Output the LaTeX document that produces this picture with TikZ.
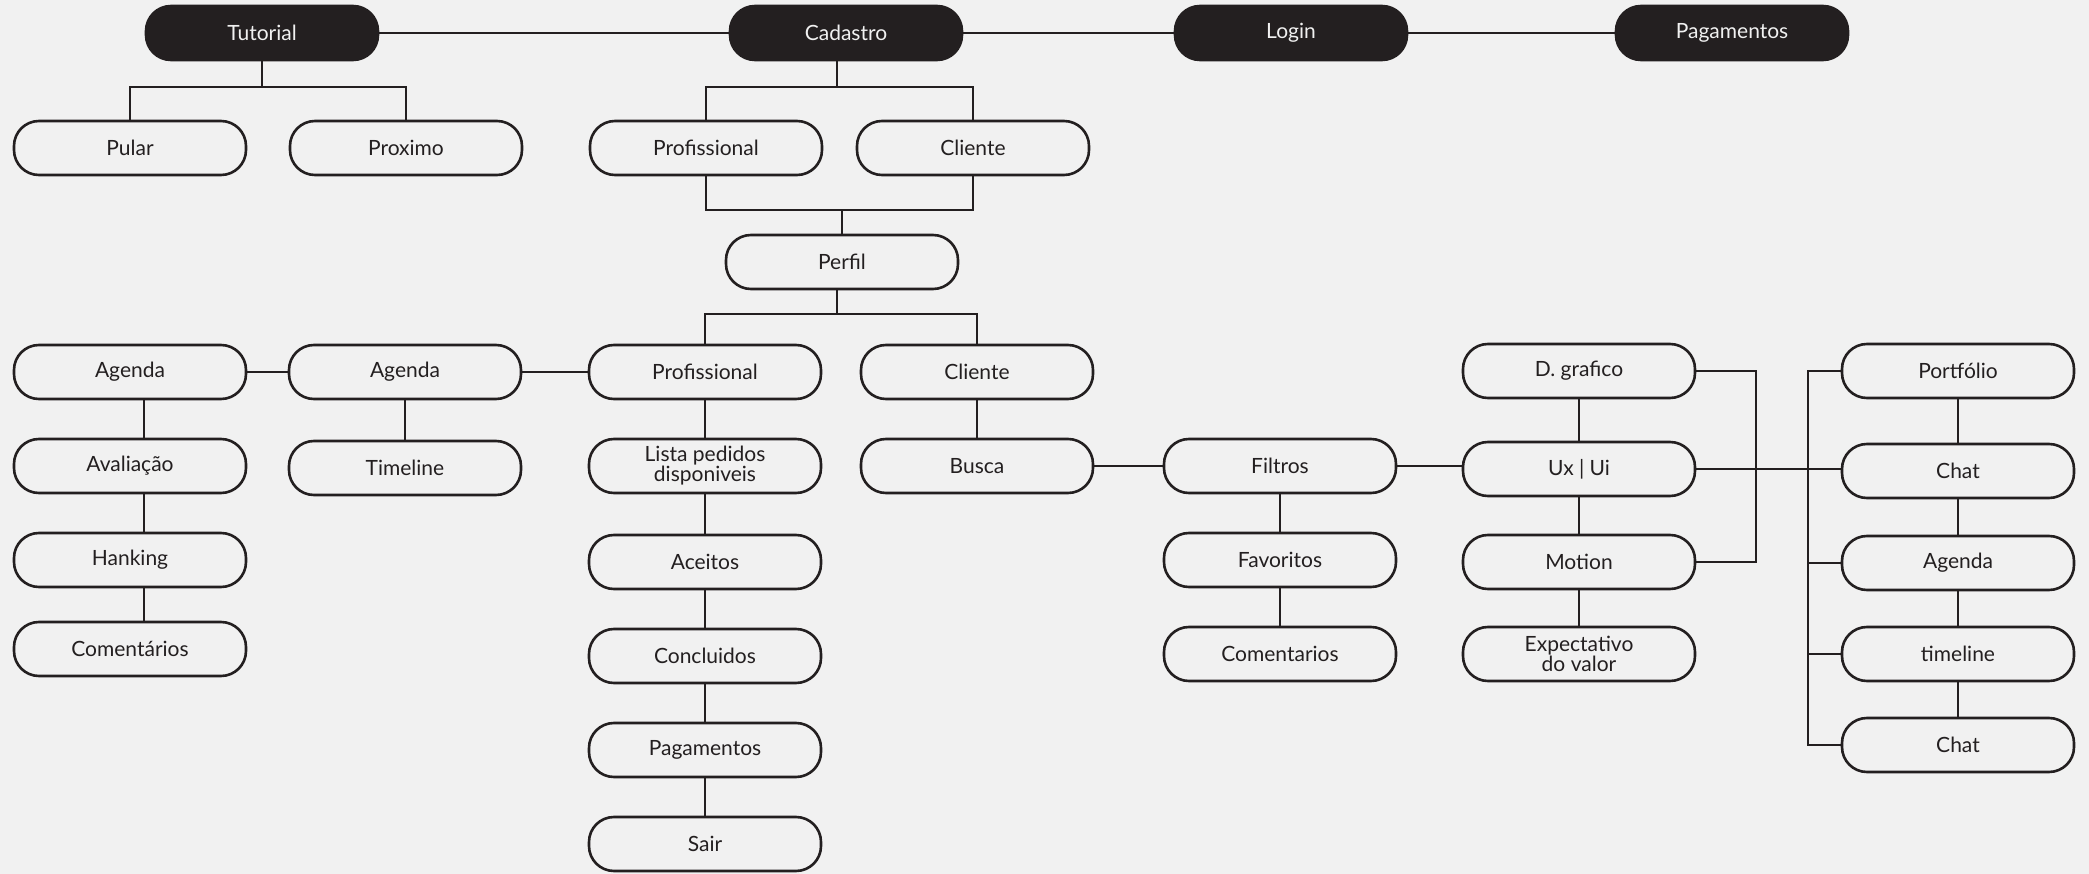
\documentclass[tikz,border=0pt]{standalone}
\usepackage{fontspec}
\setmainfont{Lato}
\usetikzlibrary{calc,positioning}
\definecolor{ink}{HTML}{231F20}
\definecolor{paper}{HTML}{F1F1F1}
\tikzset{
  box/.style={draw=ink, line width=2.6pt, rounded corners=25pt, minimum width=232pt, minimum height=54pt, inner sep=0pt, text=ink, font=\fontsize{21}{16}\selectfont, align=center},
  topbox/.style={box, fill=ink, text=paper},
  link/.style={draw=ink, line width=2.2pt}
}

\begin{document}
\begin{tikzpicture}[x=1pt,y=-1pt]
\fill[paper] (0,0) rectangle (2089,874);
% top row
\node[topbox] (tut) at (262,33) {Tutorial};
\node[topbox] (cad) at (846,33) {Cadastro};
\node[topbox] (log) at (1291,33) {Login};
\node[topbox] (pag) at (1732,33) {Pagamentos};
\draw[link] (tut) -- (cad) -- (log) -- (pag);
% tutorial / cadastro
\node[box] (pul) at (130,148) {Pular};
\node[box] (prox) at (406,148) {Proximo};
\node[box] (cprof) at (706,148) {Profissional};
\node[box] (ccli) at (973,148) {Cliente};
\node[box] (perf) at (842,262) {Perfil};
\coordinate (tj) at ($(tut.south)+(0,26)$);
\draw[link] (tut.south) -- (tj);
\draw[link] (pul.north) |- (tj) -| (prox.north);
\coordinate (cj) at ($(cad.south)+(-9,26)$);
\draw[link] ($(cad.south)+(-9,0)$) -- (cj);
\draw[link] (cprof.north) |- (cj) -| (ccli.north);
\coordinate (pj) at ($(perf.north)+(0,-24)$);
\draw[link] (cprof.south) |- (pj) -| (ccli.south);
\draw[link] (pj) -- (perf.north);
% perfil
\node[box] (agA) at (130,372) {Agenda};
\node[box] (agB) at (405,372) {Agenda};
\node[box] (prof) at (705,372) {Profissional};
\node[box] (cli) at (977,372) {Cliente};
\coordinate (qj) at ($(perf.south)+(-5,24)$);
\draw[link] ($(perf.south)+(-5,0)$) -- (qj);
\draw[link] (prof.north) |- (qj) -| (cli.north);
\draw[link] (agA) -- (agB) -- (prof);
% agenda column
\node[box] (aval) at (130,466) {Avaliação};
\node[box] (hank) at (130,560) {Hanking};
\node[box] (comA) at (130,649) {Comentários};
\draw[link] ([xshift=14]agA.south) -- ([xshift=14]aval.north);
\draw[link] ([xshift=14]aval.south) -- ([xshift=14]hank.north);
\draw[link] ([xshift=14]hank.south) -- ([xshift=14]comA.north);
\node[box] (time) at (405,468) {Timeline};
\draw[link] (agB) -- (time);
% profissional column
\node[box] (lista) at (705,466) {Lista pedidos\\disponiveis};
\node[box] (aceit) at (705,562) {Aceitos};
\node[box] (concl) at (705,656) {Concluidos};
\node[box] (pagB) at (705,750) {Pagamentos};
\node[box] (sair) at (705,844) {Sair};
\draw[link] (prof) -- (lista) -- (aceit) -- (concl) -- (pagB) -- (sair);
% cliente
\node[box] (busca) at (977,466) {Busca};
\node[box] (filt) at (1280,466) {Filtros};
\node[box] (fav) at (1280,560) {Favoritos};
\node[box] (comB) at (1280,654) {Comentarios};
\draw[link] (cli) -- (busca) -- (filt);
\draw[link] (filt) -- (fav) -- (comB);
\node[box] (dgraf) at (1579,371) {D. grafico};
\node[box] (ux) at (1579,469) {Ux | Ui};
\node[box] (mot) at (1579,562) {Motion};
\node[box] (expec) at (1579,654) {Expectativo\\do valor};
\draw[link] (filt.east) -- (filt.east -| ux.west);
\draw[link] (dgraf) -- (ux) -- (mot) -- (expec);
\draw[link] (dgraf.east) -- ++(60,0) |- (mot.east);
% right column
\node[box] (port) at (1958,371) {Portfólio};
\node[box] (chatA) at (1958,471) {Chat};
\node[box] (agC) at (1958,563) {Agenda};
\node[box] (tl) at (1958,654) {timeline};
\node[box] (chatB) at (1958,745) {Chat};
\draw[link] (ux.east) -- (ux.east -| chatA.west);
\draw[link] (port.west) -- ++(-33,0) |- (chatB.west);
\foreach \n in {agC,tl}
  \draw[link] (\n.west) -- ++(-33,0);
\draw[link] (port) -- (chatA) -- (agC) -- (tl) -- (chatB);
\end{tikzpicture}
\end{document}
